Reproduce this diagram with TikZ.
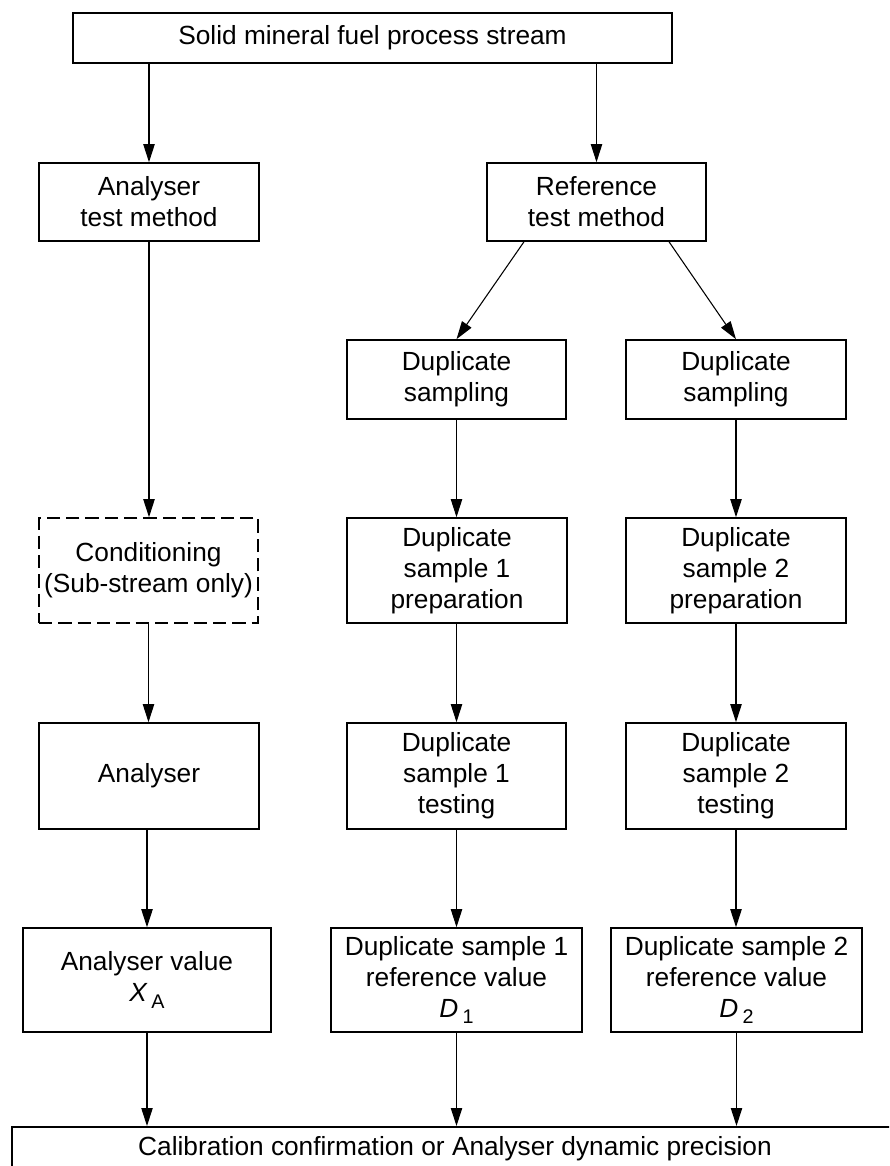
\documentclass[tikz,border=0pt]{standalone}
\usepackage{fontspec}
\setmainfont{Liberation Sans}
\usetikzlibrary{arrows.meta,calc}
\begin{document}
\begin{tikzpicture}[x=0.75pt,y=-0.75pt,
  every node/.style={font=\fontsize{19.7}{23.2}\selectfont},
  box/.style={draw=black,line width=1.2pt,align=center,inner sep=0pt,fill=white},
  dbox/.style={box,dash pattern=on 10pt off 4.5pt},
  conn/.style={line width=0.8pt,-{Triangle[length=13.5pt,width=8.5pt]}},
  plain/.style={line width=0.8pt}]
\useasboundingbox (0,0) rectangle (889,1166);
\clip (0,0) rectangle (889,1166);
\newcommand{\subA}[2]{{\itshape #1}\,\raisebox{-0.45ex}{\fontsize{14.8}{16}\selectfont #2}}
% nodes
\node[box,minimum width=449.25pt,minimum height=37.5pt] (top) at (372.5,38) {Solid mineral fuel process stream};
\node[box,minimum width=165pt,minimum height=58.5pt] (atm) at (149,202) {Analyser\\test method};
\node[box,minimum width=164.25pt,minimum height=58.5pt] (rtm) at (596.5,202) {Reference\\test method};
\node[box,minimum width=164.25pt,minimum height=59.25pt] (ds1) at (456.5,379.5) {Duplicate\\sampling};
\node[box,minimum width=165pt,minimum height=59.25pt] (ds2) at (736,379.5) {Duplicate\\sampling};
\node[dbox,minimum width=164.25pt,minimum height=78.75pt] (cond) at (148.5,570.5) {Conditioning\\(Sub-stream only)};
\node[box,minimum width=165pt,minimum height=78.75pt] (prep1) at (457,570.5) {Duplicate\\sample 1\\preparation};
\node[box,minimum width=165pt,minimum height=78.75pt] (prep2) at (736,570.5) {Duplicate\\sample 2\\preparation};
\node[box,minimum width=165pt,minimum height=79.5pt] (ana) at (149,776) {Analyser};
\node[box,minimum width=164.25pt,minimum height=79.5pt] (test1) at (456.5,776) {Duplicate\\sample 1\\testing};
\node[box,minimum width=165pt,minimum height=79.5pt] (test2) at (736,776) {Duplicate\\sample 2\\testing};
\node[box,minimum width=186pt,minimum height=78pt] (av) at (147,980) {Analyser value\\\subA{X}{A}};
\node[box,minimum width=188.25pt,minimum height=78pt] (d1) at (456.5,980) {Duplicate sample 1\\reference value\\\subA{D}{1}};
\node[box,minimum width=188.25pt,minimum height=78pt] (d2) at (736.5,980) {Duplicate sample 2\\reference value\\\subA{D}{2}};
\node[box,minimum width=666pt,minimum height=40pt,anchor=north west] (bot) at (11,1126) {};
\node[anchor=base] (bottxt) at (455,1155) {Calibration confirmation or Analyser dynamic precision};
% connectors
\draw[conn] (top.south -| atm.north) -- (atm.north);
\draw[conn] (top.south -| rtm.north) -- (rtm.north);
\draw[conn] ([xshift=-54.4pt]rtm.south) -- (ds1.north);
\draw[conn] ([xshift=54.4pt]rtm.south) -- (ds2.north);
\draw[conn] (atm.south) -- (atm.south |- cond.north);
\draw[conn] (cond.south) -- (cond.south |- ana.north);
\draw[conn] (av.north |- ana.south) -- (av.north);
\draw[conn] (av.south) -- (av.south |- bot.north);
\draw[conn] (ds1.south) -- (prep1.north -| ds1.south);
\draw[conn] (prep1.south -| test1.north) -- (test1.north);
\draw[conn] (test1.south) -- (test1.south |- d1.north);
\draw[conn] (d1.south) -- (d1.south |- bot.north);
\draw[conn] (ds2.south) -- (prep2.north -| ds2.south);
\draw[conn] (prep2.south -| test2.north) -- (test2.north);
\draw[conn] (test2.south) -- (test2.south |- d2.north);
\draw[conn] (d2.south) -- (d2.south |- bot.north);
\end{tikzpicture}
\end{document}
